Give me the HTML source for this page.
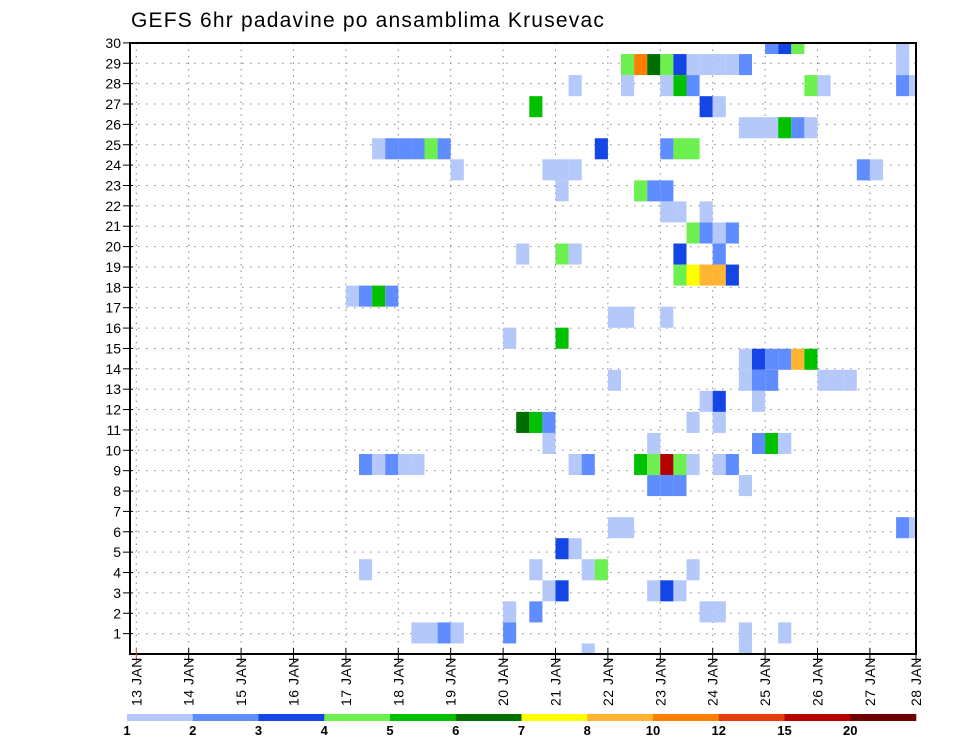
<!DOCTYPE html>
<html><head><meta charset="utf-8"><style>
html,body{margin:0;padding:0;background:#fff;}
svg{display:block;font-family:"Liberation Sans",sans-serif;}
</style></head><body>
<svg id="chart" width="960" height="742" viewBox="0 0 960 742">
<text x="131" y="27" font-size="21" letter-spacing="1.2" fill="#000">GEFS 6hr padavine po ansamblima Krusevac</text>
<defs><clipPath id="pc"><rect x="130" y="43" width="786" height="611"/></clipPath></defs>
<g id="grid"></g>
<g id="cells" clip-path="url(#pc)"></g>
<rect x="130" y="43" width="786" height="611" fill="none" stroke="#000" stroke-width="2"/>
<g id="yaxis"></g>
<g id="xaxis"></g>
<g id="legend"></g>
</svg>
<script>
const dayLabels = ["13 JAN","14 JAN","15 JAN","16 JAN","17 JAN","18 JAN","19 JAN","20 JAN","21 JAN","22 JAN","23 JAN","24 JAN","25 JAN","26 JAN","27 JAN","28 JAN"];
const memberTicks = [1,2,3,4,5,6,7,8,9,10,11,12,13,14,15,16,17,18,19,20,21,22,23,24,25,26,27,28,29,30];
const levelLabels = ["1","2","3","4","5","6","7","8","10","12","15","20"];
const levelBounds = [1,2,3,4,5,6,7,8,10,12,15,20,1e9];
const levelColors = ["#b4c8fa","#5f8cff","#1446e6","#6cf050","#00c000","#006e00","#ffff00","#ffb432","#ff8000","#e63c0a","#b40000","#6e0000"];
// ensemble row, 6-hr step since 13 JAN 00z, precipitation value
const cellRows = [30,30,30,30, 29,29,29,29,29,29,29,29,29,29,29, 28,28,28,28,28,28,28,28,28, 27,27,27, 26,26,26,26,26,26,
25,25,25,25,25,25,25,25,25,25, 24,24,24,24,24,24, 23,23,23,23, 22,22,22, 21,21,21,21, 20,20,20,20,20, 19,19,19,19,19,
18,18,18,18, 17,17,17, 16,16, 15,15,15,15,15,15, 14,14,14,14,14,14,14, 13,13,13, 12,12,12,12,12, 11,11,11,11,11,
10,10,10,10,10,10,10,10,10,10,10,10,10,10, 9,9,9,9, 7,7,7,7, 6,6, 5,5,5,5,5, 4,4,4,4,4, 3,3,3,3, 2,2,2,2,2,2,2, 1,1];
const cellSteps = [48,49,50,58, 37,38,39,40,41,42,43,44,45,46,58, 33,37,40,41,42,51,52,58,59, 30,43,44, 46,47,48,49,50,51,
18,19,20,21,22,23,35,40,41,42, 24,31,32,33,55,56, 32,38,39,40, 40,41,43, 42,43,44,45, 29,32,33,41,44, 41,42,43,44,45,
16,17,18,19, 36,37,40, 28,32, 46,47,48,49,50,51, 36,46,47,48,52,53,54, 43,44,47, 29,30,31,42,44, 31,39,47,48,49,
17,18,19,20,21,33,34,38,39,40,41,42,44,45, 39,40,41,46, 36,37,58,59, 32,33, 17,30,34,35,42, 31,32,39,40,41, 28,30,43,44, 21,22,23,24,28,46,49, 34,46];
const cellValues = [2.5,3.5,4.5,1.5, 4.5,11,6.5,4.5,3.5,1.5,1.5,1.5,1.5,2.5,1.5, 1.5,1.5,1.5,5.5,2.5,4.5,1.5,2.5,1.5, 5.5,3.5,1.5, 1.5,1.5,1.5,5.5,2.5,1.5,
1.5,2.5,2.5,2.5,4.5,2.5,3.5,2.5,4.5,4.5, 1.5,1.5,1.5,1.5,2.5,1.5, 1.5,4.5,2.5,2.5, 1.5,1.5,1.5, 4.5,2.5,1.5,2.5, 1.5,4.5,1.5,3.5,2.5, 4.5,7.5,9,9,3.5,
1.5,2.5,5.5,2.5, 1.5,1.5,1.5, 1.5,5.5, 1.5,3.5,2.5,2.5,9,5.5, 1.5,1.5,2.5,2.5,1.5,1.5,1.5, 1.5,3.5,1.5, 6.5,5.5,2.5,1.5,1.5, 1.5,1.5,2.5,5.5,1.5,
2.5,1.5,2.5,1.5,1.5,1.5,2.5,5.5,4.5,17,4.5,1.5,1.5,2.5, 2.5,2.5,2.5,1.5, 1.5,1.5,2.5,1.5, 3.5,1.5, 1.5,1.5,1.5,4.5,1.5, 1.5,3.5,1.5,3.5,1.5, 1.5,2.5,1.5,1.5, 1.5,1.5,2.5,1.5,2.5,1.5,1.5, 1.5,1.5];

const NS="http://www.w3.org/2000/svg";
const X0=136.3, DAY=52.4, L=130, R=916, T=43, B=654;
const xDay = d => X0 + d*DAY;
const xStep = s => X0 + s*DAY/4;
const yTick = k => B - k*20.37;
const CELLH = 21.05;
const cellTop = r => 33 + (30-r)*CELLH;
function mk(tag, attrs, parent){const e=document.createElementNS(NS,tag);for(const k in attrs)e.setAttribute(k,attrs[k]);parent.appendChild(e);return e;}
function colorFor(v){for(let i=0;i<levelColors.length;i++){if(v>=levelBounds[i]&&v<levelBounds[i+1])return levelColors[i];}return "#fff";}

const grid=document.getElementById('grid');
memberTicks.forEach(k=>{
  const l=mk('line',{x1:L,x2:R,y1:yTick(k),y2:yTick(k),stroke:"#888","stroke-width":1,"stroke-dasharray":"1.5 6.5"},grid);
  
  
});
dayLabels.forEach((d,i)=>{
  const x=xDay(i); if(x>R) return;
  const l=mk('line',{x1:x,x2:x,y1:T,y2:B,stroke:"#888","stroke-width":1,"stroke-dasharray":"1.5 5"},grid);
  
  
});

const cells=document.getElementById('cells');
cellRows.forEach((r,i)=>{
  const c=mk('rect',{x:xStep(cellSteps[i]),y:cellTop(r),width:DAY/4,height:CELLH,fill:colorFor(cellValues[i])},cells);
  
  
});

const ya=document.getElementById('yaxis');
memberTicks.forEach(k=>{
  const y=yTick(k);
  const t=mk('line',{x1:L-7,x2:L+3,y1:y,y2:y,stroke:"#000","stroke-width":1},ya);
  
  
  const tx=mk('text',{x:L-9,y:y+5,"text-anchor":"end","font-size":14,fill:"#000"},ya);
  tx.textContent=String(k);
  
  
});

const xa=document.getElementById('xaxis');
dayLabels.forEach((d,i)=>{
  let x=xDay(i); if(x>R) x=R;
  const t=mk('line',{x1:x,x2:x,y1:B-6,y2:B+8,stroke:i===0?"#c44":"#000","stroke-width":1},xa);
  
  
  const tx=mk('text',{x:0,y:0,transform:`translate(${x+5},706) rotate(-90)`,"font-size":14,"letter-spacing":"0.5",fill:"#000","xml:space":"preserve"},xa);
  tx.textContent=d.replace(' ','  ');
  
  
});

const lg=document.getElementById('legend');
const LB0=127, LBW=(916-127)/levelColors.length;
levelColors.forEach((c,i)=>{
  const r=mk('rect',{x:LB0+i*LBW,y:714,width:LBW+0.3,height:7,fill:c},lg);
  
  
});
levelLabels.forEach((s,i)=>{
  const t=mk('text',{x:LB0+i*LBW,y:735,"text-anchor":"middle","font-size":13,"font-weight":"bold",fill:"#000"},lg);
  t.textContent=s;
  
  
});
</script>
</body></html>
